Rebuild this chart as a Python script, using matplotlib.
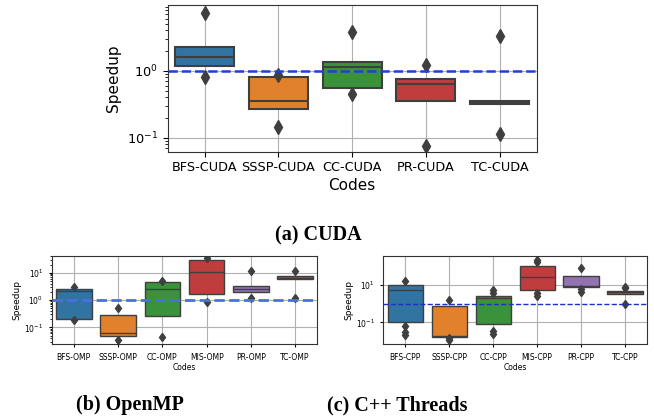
import numpy as np
import matplotlib.pyplot as plt

# colors (seaborn deep, desaturated)
palette = ['#3274a1', '#e1812c', '#3a923a', '#c03d3e', '#9372b2', '#845b53']
edge = '#3f3f3f'

# ---------------- CUDA ----------------
cuda_codes = ['BFS-CUDA', 'SSSP-CUDA', 'CC-CUDA', 'PR-CUDA', 'TC-CUDA']
cuda_q1 = [1.16, 0.268, 0.557, 0.356, 0.316]
cuda_med = [1.59, 0.353, 1.15, 0.626, 0.33]
cuda_q3 = [2.26, 0.80, 1.35, 0.75, 0.356]
cuda_fliers = [[7.4, 0.80], [0.86, 0.146], [3.82, 0.445], [1.24, 0.076], [3.3, 0.115]]
cuda_colors = [palette[0], palette[1], palette[2], palette[3], palette[4]]

# ---------------- OpenMP ----------------
omp_codes = ['BFS-OMP', 'SSSP-OMP', 'CC-OMP', 'MIS-OMP', 'PR-OMP', 'TC-OMP']
omp_q1 = [0.21, 0.048, 0.27, 1.7, 1.96, 5.7]
omp_med = [2.2, 0.06, 2.5, 10.3, 2.5, 6.5]
omp_q3 = [2.6, 0.28, 4.4, 28.5, 3.2, 7.6]
omp_fliers = [[2.9, 0.18], [0.5, 0.034], [5.1, 0.044], [34.5, 0.82], [11.8, 1.2], [11.8, 1.2]]
omp_colors = palette

# ---------------- C++ threads ----------------
cpp_codes = ['BFS-CPP', 'SSSP-CPP', 'CC-CPP', 'MIS-CPP', 'PR-CPP', 'TC-CPP']
cpp_q1 = [0.104, 0.017, 0.081, 5.4, 7.6, 3.1]
cpp_med = [5.0, 0.018, 2.0, 25.7, 8.5, 3.9]
cpp_q3 = [10.0, 0.76, 2.6, 98, 29, 4.8]
cpp_fliers = [[16.3, 0.066, 0.03, 0.022], [1.48, 0.014, 0.011], [5.2, 3.5, 0.034, 0.024],
              [206, 155, 3.8, 2.6], [75, 5.7, 4.1], [7.3, 6.4, 1.0]]
cpp_colors = palette


def draw_boxes(ax, codes, q1, med, q3, fliers, colors, lw, ms):
  stats = []
  for i in range(len(codes)):
    stats.append(dict(med=med[i], q1=q1[i], q3=q3[i], whislo=q1[i], whishi=q3[i],
                      fliers=fliers[i], label=codes[i]))
  bp = ax.bxp(stats, positions=range(len(codes)), widths=0.8, patch_artist=True,
              showcaps=False,
              boxprops=dict(edgecolor=edge, linewidth=lw),
              medianprops=dict(color=edge, linewidth=lw),
              whiskerprops=dict(color=edge, linewidth=lw),
              flierprops=dict(marker='d', markerfacecolor=edge, markeredgecolor=edge,
                              markersize=ms))
  for patch, c in zip(bp['boxes'], colors):
    patch.set_facecolor(c)
  ax.set_yscale('log')
  ax.set_xlim(-0.5, len(codes) - 0.5)
  ax.grid(True, color='#b0b0b0', linewidth=0.8)
  ax.set_axisbelow(True)
  for s in ax.spines.values():
    s.set_color('#333333')


fig = plt.figure(figsize=(6.54, 4.17), dpi=100)

# top: CUDA
ax1 = fig.add_axes([0.2564, 0.6362, 0.5642, 0.3511])
draw_boxes(ax1, cuda_codes, cuda_q1, cuda_med, cuda_q3, cuda_fliers, cuda_colors, 1.5, 7)
ax1.axhline(1, color='#1f3fd8', linestyle='--', linewidth=1.8, zorder=5)
ax1.set_ylim(0.062, 9.5)
ax1.tick_params(labelsize=9.3)
ax1.set_xlabel('Codes', fontsize=11, labelpad=2.5)
ax1.set_ylabel('Speedup', fontsize=11)

# bottom left: OpenMP
ax2 = fig.add_axes([0.0791, 0.1743, 0.4061, 0.2125])
draw_boxes(ax2, omp_codes, omp_q1, omp_med, omp_q3, omp_fliers, omp_colors, 1.0, 4.5)
ax2.axhline(1, color='#4a6fe3', linestyle='--', linewidth=2.0, zorder=5)
ax2.set_ylim(0.024, 42)
ax2.tick_params(labelsize=5.5, length=2.5)
ax2.tick_params(which='minor', length=1.5)
ax2.set_xlabel('Codes', fontsize=5.5, labelpad=1)
ax2.set_ylabel('Speedup', fontsize=6.5, labelpad=2)

# bottom right: C++ threads
ax3 = fig.add_axes([0.5861, 0.1743, 0.4032, 0.2125])
draw_boxes(ax3, cpp_codes, cpp_q1, cpp_med, cpp_q3, cpp_fliers, cpp_colors, 1.0, 4.5)
ax3.axhline(1, color='#1a2fc8', linestyle='--', linewidth=1.0, zorder=5)
ax3.set_ylim(0.0068, 350)
ax3.set_yticks([0.1, 10])
ax3.minorticks_off()
ax3.tick_params(labelsize=5.5, length=2.5)
ax3.set_xlabel('Codes', fontsize=5.5, labelpad=1)
ax3.set_ylabel('Speedup', fontsize=6.5, labelpad=2)

# captions
cap = dict(fontsize=14.5, fontweight='bold', family='Liberation Serif', ha='center', va='center')
fig.text(318 / 654, 1 - 235 / 417, '(a) CUDA', **cap)
fig.text(130 / 654, 1 - 405 / 417, '(b) OpenMP', **cap)
fig.text(397 / 654, 1 - 405 / 417, '(c) C++ Threads', **cap)

fig.savefig('out.png', dpi=100)
